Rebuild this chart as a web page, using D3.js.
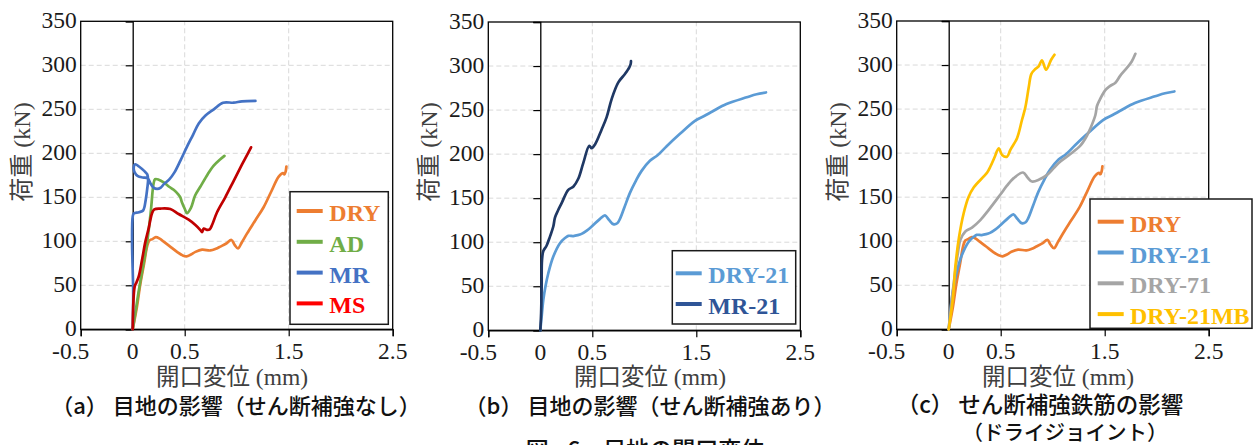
<!DOCTYPE html>
<html>
<head>
<meta charset="utf-8">
<script src="https://cdn.jsdelivr.net/npm/d3@7"></script>
<style>
body { margin: 0; background: #fff; }
svg { display: block; }
</style>
</head>
<body>
<div id="chart"></div>
<script>
// values: [opening displacement (mm), load (kN)]
var dry = [[0,0],[0.04,25],[0.074,52],[0.11,75],[0.138,94],[0.16,100.8],[0.19,102.5],[0.222,104.8],[0.26,103],[0.298,99.6],[0.36,94],[0.426,88],[0.48,84],[0.518,82.8],[0.56,85],[0.603,88],[0.667,90.5],[0.747,89.6],[0.8,91.5],[0.843,94],[0.9,97.5],[0.949,101.5],[0.98,96],[1.013,92],[1.05,99],[1.1,109],[1.18,124],[1.26,139],[1.33,156],[1.404,173.5],[1.446,177.5],[1.458,176],[1.47,179],[1.478,185]];
var ad = [[0,0],[0.03,22],[0.06,45],[0.1,72],[0.14,100],[0.175,135],[0.2,165],[0.215,170.5],[0.25,170],[0.298,167],[0.35,162],[0.394,158.5],[0.44,153],[0.458,150],[0.474,144],[0.5,137],[0.522,132],[0.56,138],[0.6,152],[0.65,162],[0.72,176],[0.779,186],[0.84,193],[0.882,197]];
var mr = [[0,0],[0.005,40],[-0.006,100],[0,128],[0.01,131.5],[0.06,133],[0.1,135],[0.125,147],[0.14,160],[0.148,170],[0.14,176],[0.11,180],[0.06,185],[0.025,187.5],[0.01,184],[0.02,178],[0.05,174],[0.1,172.5],[0.145,171.5],[0.17,166],[0.2,161],[0.235,159.5],[0.27,161],[0.3,165],[0.35,170],[0.4,178],[0.46,192],[0.52,207],[0.58,221],[0.635,234],[0.7,243],[0.78,250],[0.869,257.5],[0.97,257.5],[1.05,259],[1.18,259.5]];
var ms = [[0,0],[0.019,48.5],[0.035,53],[0.058,60],[0.09,79],[0.122,99.6],[0.154,115],[0.186,132],[0.208,136.4],[0.266,137.2],[0.362,136.7],[0.442,131],[0.538,124.5],[0.603,118.5],[0.651,112.8],[0.667,110.5],[0.683,114.5],[0.715,113],[0.74,113.6],[0.763,118.5],[0.811,133],[0.89,150],[0.97,168.5],[1.05,187],[1.138,206.8]];
var dry21 = [[0,0],[0.015,18],[0.029,34.5],[0.05,50],[0.077,64.8],[0.125,83.7],[0.189,98.9],[0.24,105],[0.269,107.2],[0.317,107],[0.36,108],[0.397,109.5],[0.45,113.5],[0.494,117.8],[0.574,126.5],[0.622,130.5],[0.66,125.5],[0.702,120.5],[0.74,121.5],[0.766,126.5],[0.81,140],[0.862,156],[0.92,170],[0.974,181],[1.054,192.4],[1.13,199],[1.215,209],[1.343,223],[1.487,237.8],[1.58,243.5],[1.663,249],[1.79,256.8],[1.984,264.5],[2.08,268],[2.17,270]];
var mr21 = [[0,0],[0.008,20],[0.013,50],[0.016,79],[0.029,90],[0.06,96],[0.093,106.4],[0.125,117.8],[0.141,128],[0.17,136],[0.205,144.3],[0.269,159.5],[0.317,163],[0.365,172],[0.413,189.8],[0.471,209.5],[0.494,206.8],[0.526,211],[0.59,228],[0.638,242],[0.686,262.5],[0.75,281.4],[0.814,291],[0.856,298.4],[0.869,302.3],[0.872,305.5]];
var dry71 = [[0,0],[0.048,52],[0.09,88],[0.112,101.5],[0.16,111],[0.224,115.5],[0.304,124],[0.385,135.6],[0.497,153],[0.56,163],[0.625,171.6],[0.715,178],[0.76,172],[0.801,167.8],[0.87,170],[0.946,175.3],[1.01,183],[1.074,190.5],[1.17,199],[1.266,208.5],[1.33,220],[1.362,228],[1.41,243],[1.426,253.5],[1.45,260],[1.506,271.5],[1.55,276],[1.603,280],[1.65,288],[1.715,297],[1.76,304],[1.795,312.7]];
var dry21mb = [[0,0],[0.04,35],[0.064,71],[0.1,105],[0.144,131.8],[0.19,150],[0.24,161],[0.337,173.5],[0.37,178],[0.401,184.8],[0.44,195],[0.481,205.5],[0.513,198],[0.561,196],[0.593,203.8],[0.657,217],[0.705,237.9],[0.737,252],[0.77,275],[0.795,290],[0.833,295.5],[0.865,298.6],[0.897,305.4],[0.936,294.7],[0.985,306],[1.017,311.7]];

var xTickValues = [-0.5, 0, 0.5, 1.5, 2.5];
var xTickMarks = [-0.5, 0.5, 1.5, 2.5];
var xGridValues = [0.5, 1.5];
var yTickValues = [0, 50, 100, 150, 200, 250, 300, 350];
var yGridValues = [50, 100, 150, 200, 250, 300];

var yTitle = "荷重 (kN)";
var xTitle = "開口変位 (mm)";

var serif = "'Liberation Serif', 'Times New Roman', 'Noto Sans CJK JP', serif";
var gothic = "'Noto Sans CJK JP', sans-serif";

var panels = [
    {
        left: 80.7, top: 21.3, bottom: 329.3, xTitleX: 232,
        series: [
            {name: "DRY", data: dry, color: "#ED7D31", key: "#ED7D31"},
            {name: "AD", data: ad, color: "#70AD47", key: "#70AD47"},
            {name: "MR", data: mr, color: "#4472C4", key: "#4472C4"},
            {name: "MS", data: ms, color: "#C00000", key: "#FF0000"}
        ],
        legend: {x: 290, y: 191.7, w: 98.3, h: 132.6, row0: 211, step: 30.8, sx: 296.7, tx: 329.3},
        caption: [{text: "（a） 目地の影響（せん断補強なし）", x: 236, y: 414, size: 22}]
    },
    {
        left: 488.3, top: 22, bottom: 330.3, xTitleX: 650,
        series: [
            {name: "DRY-21", data: dry21, color: "#5B9BD5", key: "#5B9BD5"},
            {name: "MR-21", data: mr21, color: "#1F3864", key: "#2F5597"}
        ],
        legend: {x: 672.3, y: 250.7, w: 123.4, h: 73.3, row0: 273.3, step: 30.7, sx: 675.7, tx: 708.3},
        caption: [{text: "（b） 目地の影響（せん断補強あり）", x: 650, y: 414, size: 22}]
    },
    {
        left: 896.7, top: 21, bottom: 329.3, xTitleX: 1058,
        series: [
            {name: "DRY", data: dry, color: "#ED7D31", key: "#ED7D31"},
            {name: "DRY-21", data: dry21, color: "#5B9BD5", key: "#5B9BD5"},
            {name: "DRY-71", data: dry71, color: "#A5A5A5", key: "#A5A5A5"},
            {name: "DRY-21MB", data: dry21mb, color: "#FFC000", key: "#FFC000"}
        ],
        legend: {x: 1090, y: 199, w: 162, h: 129.3, row0: 221.7, step: 30.8, sx: 1097.7, tx: 1130},
        caption: [
            {text: "（c） せん断補強鉄筋の影響", x: 1040, y: 413, size: 22.5},
            {text: "（ドライジョイント）", x: 1065, y: 439.5, size: 20.5}
        ]
    }
];

var svg = d3.select("#chart").append("svg")
    .attr("width", 1253)
    .attr("height", 445);

function drawPanel(p) {
    var x = d3.scaleLinear().domain([-0.5, 2.5]).range([p.left, p.left + 312]);
    var y = d3.scaleLinear().domain([0, 350]).range([p.bottom, p.top]);
    var g = svg.append("g");
    var right = x(2.5);

    // grid
    g.selectAll("line.hgrid").data(yGridValues).enter().append("line")
        .attr("x1", p.left).attr("x2", right)
        .attr("y1", function(d){ return y(d); })
        .attr("y2", function(d){ return y(d); })
        .attr("stroke", "#d9d9d9").attr("stroke-width", 1)
        .attr("stroke-dasharray", "5,3");
    g.selectAll("line.vgrid").data(xGridValues).enter().append("line")
        .attr("y1", p.bottom).attr("y2", p.top)
        .attr("x1", function(d){ return x(d); })
        .attr("x2", function(d){ return x(d); })
        .attr("stroke", "#d9d9d9").attr("stroke-width", 1)
        .attr("stroke-dasharray", "5,3");

    // frame
    g.append("rect")
        .attr("x", p.left).attr("y", p.top)
        .attr("width", right - p.left).attr("height", p.bottom - p.top)
        .attr("fill", "none").attr("stroke", "#000").attr("stroke-width", 1.3);

    // y axis at x = 0
    var yAxis = d3.axisLeft(y).tickValues(yTickValues).tickSize(7).tickFormat("");
    g.append("g").attr("transform", "translate(" + x(0) + ",0)").call(yAxis)
        .call(function(s){
            s.select(".domain").attr("stroke", "#000").attr("stroke-width", 1.3);
            s.selectAll(".tick line").attr("stroke", "#000").attr("stroke-width", 1.2);
        });

    // x axis tick marks
    var xAxis = d3.axisBottom(x).tickValues(xTickMarks).tickSize(7).tickFormat("");
    g.append("g").attr("transform", "translate(0," + p.bottom + ")").call(xAxis)
        .call(function(s){
            s.select(".domain").attr("stroke", "#000").attr("stroke-width", 1.3);
            s.selectAll(".tick line").attr("stroke", "#000").attr("stroke-width", 1.2);
        });

    // tick labels
    g.selectAll("text.ylab").data(yTickValues).enter().append("text")
        .attr("x", p.left - 4)
        .attr("y", function(d){ return y(d) + 7; })
        .attr("text-anchor", "end")
        .attr("font-family", serif).attr("font-size", 23.5).attr("fill", "#1a1a1a")
        .text(function(d){ return d; });
    g.selectAll("text.xlab").data(xTickValues).enter().append("text")
        .attr("x", function(d){ return x(d) + (d < 0 ? -10 : 0); })
        .attr("y", p.bottom + 30)
        .attr("text-anchor", "middle")
        .attr("font-family", serif).attr("font-size", 23.5).attr("fill", "#1a1a1a")
        .text(function(d){ return d; });

    // axis titles
    g.append("text")
        .attr("transform", "translate(" + (p.left - 51) + ",152) rotate(-90)")
        .attr("text-anchor", "middle")
        .attr("font-family", serif).attr("font-size", 24).attr("fill", "#404040")
        .text(yTitle);
    g.append("text")
        .attr("x", p.xTitleX).attr("y", 385)
        .attr("text-anchor", "middle")
        .attr("font-family", serif).attr("font-size", 23.5).attr("fill", "#404040")
        .text(xTitle);

    // curves
    var line = d3.line()
        .x(function(d){ return x(d[0]); })
        .y(function(d){ return y(d[1]); })
        .curve(d3.curveCatmullRom.alpha(0.5));
    g.selectAll("path.curve").data(p.series).enter().append("path")
        .attr("d", function(s){ return line(s.data); })
        .attr("fill", "none")
        .attr("stroke", function(s){ return s.color; })
        .attr("stroke-width", 2.7)
        .attr("stroke-linejoin", "round")
        .attr("stroke-linecap", "round");

    // legend
    var L = p.legend;
    g.append("rect")
        .attr("x", L.x).attr("y", L.y).attr("width", L.w).attr("height", L.h)
        .attr("fill", "#fff").attr("stroke", "#1a1a1a").attr("stroke-width", 1.5);
    p.series.forEach(function(s, i){
        var ry = L.row0 + i * L.step;
        g.append("line")
            .attr("x1", L.sx).attr("x2", L.sx + 26)
            .attr("y1", ry).attr("y2", ry)
            .attr("stroke", s.key).attr("stroke-width", 4);
        g.append("text")
            .attr("x", L.tx).attr("y", ry + 10)
            .attr("font-family", serif).attr("font-size", 24).attr("font-weight", "bold")
            .attr("fill", s.key)
            .text(s.name);
    });

    // caption
    p.caption.forEach(function(c){
        g.append("text")
            .attr("x", c.x).attr("y", c.y)
            .attr("text-anchor", "middle")
            .attr("font-family", gothic).attr("font-size", c.size).attr("font-weight", 500)
            .attr("fill", "#111")
            .text(c.text);
    });
}

panels.forEach(drawPanel);

// figure title, cut off by the bottom edge as in the source
svg.append("text")
    .attr("x", 645).attr("y", 458)
    .attr("text-anchor", "middle")
    .attr("font-family", gothic).attr("font-size", 23).attr("font-weight", 500)
    .attr("fill", "#111")
    .text("図 - 6　目地の開口変位");
</script>
</body>
</html>
